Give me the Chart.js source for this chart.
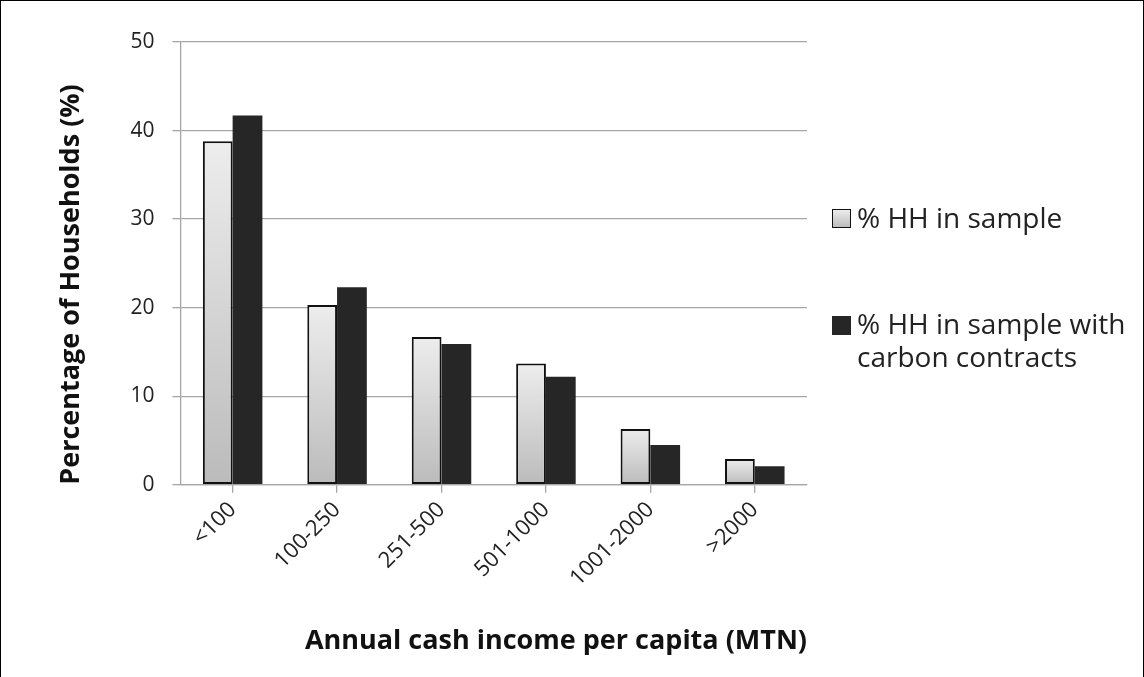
<!DOCTYPE html>
<html>
<head>
<meta charset="utf-8">
<script src="https://cdn.jsdelivr.net/npm/chart.js@4.4.1/dist/chart.umd.min.js"></script>
<style>
  html, body { margin: 0; padding: 0; background: #fff; }
  #frame {
    position: relative; width: 1144px; height: 677px; box-sizing: border-box;
    border: 1px solid #000; border-bottom: none; overflow: hidden;
  }
  #chartWrap { position: absolute; left: 0; top: 0; width: 1142px; height: 676px; }
  .legend { position: absolute; font-family: "Open Sans", sans-serif; font-size: 28px; color: #222; line-height: 33px; }
  .legend .sw { position: absolute; left: 0; width: 19px; height: 19px; box-sizing: border-box; }
  .legend .txt { position: absolute; left: 25px; white-space: nowrap; }
</style>
</head>
<body>
<div id="frame">
  <div id="chartWrap"><canvas id="incomeChart"></canvas></div>
  <div class="legend" style="left:831px; top:200px;">
    <div class="sw" style="top:8px; border:1.5px solid #111; background:linear-gradient(#ececec,#bcbcbc);"></div>
    <div class="txt" style="top:0;">% HH in sample</div>
  </div>
  <div class="legend" style="left:831px; top:306px;">
    <div class="sw" style="top:9px; background:#262626;"></div>
    <div class="txt" style="top:0;">% HH in sample with<br>carbon contracts</div>
  </div>
</div>
<script>
// data
var incomeBands = ["<100", "100-250", "251-500", "501-1000", "1001-2000", ">2000"];
var pctSample = [38.8, 20.3, 16.7, 13.7, 6.3, 2.9];
var pctCarbon = [41.7, 22.3, 15.9, 12.2, 4.5, 2.1];
var yTicks = [0, 10, 20, 30, 40, 50];

var gridGrey = "#a6a6a6";
var textColor = "#222";

// light bars: each bar fades from pale top to darker grey at the base
function sampleGradient(c) {
  var chart = c.chart;
  if (!chart.chartArea || c.raw === undefined) return "#d6d6d6";
  var y = chart.scales.y;
  var top = y.getPixelForValue(c.raw);
  var base = y.getPixelForValue(0);
  var g = chart.ctx.createLinearGradient(0, top, 0, base);
  g.addColorStop(0, "#ededed");
  g.addColorStop(1, "#bbbbbb");
  return g;
}

new Chart("incomeChart", {
  type: "bar",
  data: {
    labels: incomeBands,
    datasets: [{
      label: "% HH in sample",
      data: pctSample,
      backgroundColor: sampleGradient,
      borderColor: "#111",
      borderWidth: 2,
      borderSkipped: false
    }, {
      label: "% HH in sample with carbon contracts",
      data: pctCarbon,
      backgroundColor: "#262626",
      borderWidth: 0
    }]
  },
  options: {
    responsive: true,
    maintainAspectRatio: false,
    animation: false,
    categoryPercentage: 0.57,
    barPercentage: 1.0,
    layout: { padding: { top: 41, right: 336, bottom: 19, left: 54 } },
    plugins: {
      legend: { display: false },
      tooltip: { enabled: false }
    },
    scales: {
      x: {
        grid: { display: true, drawOnChartArea: false, offset: false, color: gridGrey, tickLength: 8, lineWidth: 1.3 },
        border: { color: gridGrey, width: 1.3 },
        ticks: {
          color: textColor, minRotation: 45, maxRotation: 45, padding: 4,
          font: { family: "Open Sans", size: 22 }
        },
        title: {
          display: true, text: "Annual cash income per capita (MTN)", align: "end",
          color: "#111", padding: { top: 30, bottom: 0 },
          font: { family: "Open Sans", size: 27, weight: "bold" }
        }
      },
      y: {
        min: 0, max: 50,
        afterBuildTicks: function(axis) { axis.ticks = yTicks.map(function(v) { return { value: v }; }); },
        grid: { color: gridGrey, lineWidth: 1.3, tickLength: 8 },
        border: { color: gridGrey, width: 1.3 },
        ticks: { color: textColor, padding: 18, font: { family: "Open Sans", size: 21 } },
        title: {
          display: true, text: "Percentage of Households (%)", align: "start",
          color: "#111", padding: { top: 0, bottom: 25 },
          font: { family: "Open Sans", size: 27, weight: "bold" }
        }
      }
    }
  }
});
</script>
</body>
</html>
